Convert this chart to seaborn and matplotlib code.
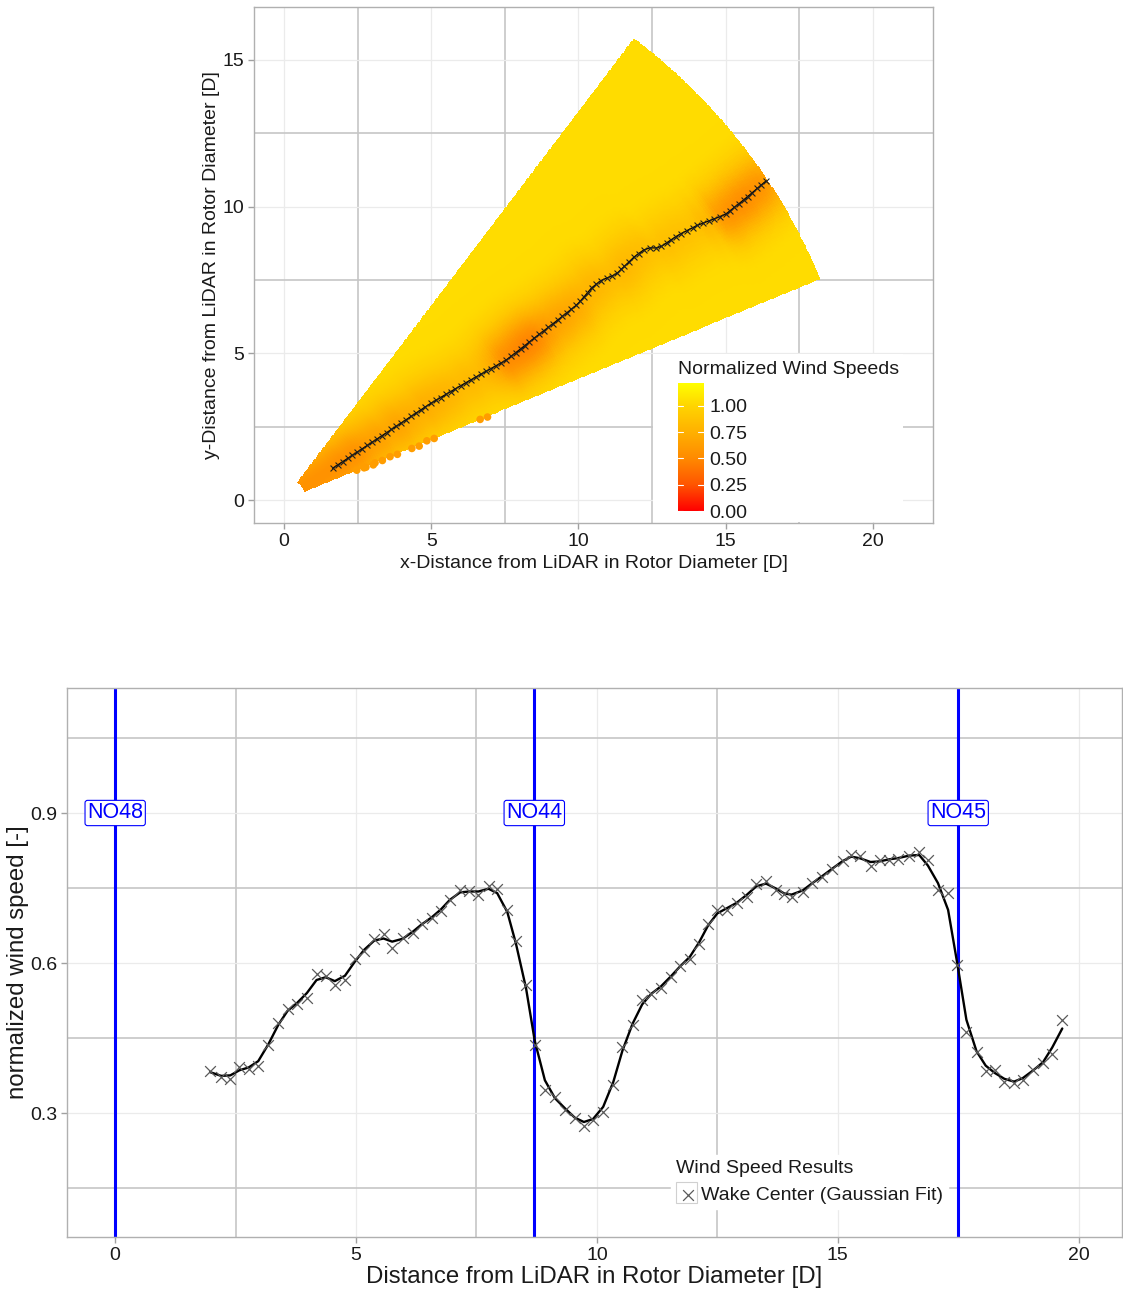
import numpy as np
import pandas as pd
import matplotlib
matplotlib.use("Agg")
import matplotlib.pyplot as plt
import seaborn as sns
from matplotlib.colors import LinearSegmentedColormap, Normalize
from matplotlib.patches import Rectangle
from matplotlib.ticker import FixedLocator

# ---------------- data ----------------
# wake-centre wind speed along the wake (bottom panel)
dist = [1.97, 2.20, 2.39, 2.58, 2.77, 2.97, 3.18, 3.39, 3.58, 3.77, 3.98, 4.18, 4.37, 4.56, 4.77, 4.97, 5.17, 5.38, 5.57, 5.75,
        5.97, 6.18, 6.36, 6.57, 6.76, 6.95, 7.16, 7.35, 7.54, 7.75, 7.93, 8.14, 8.32, 8.53, 8.71, 8.92, 9.13, 9.34, 9.54, 9.73,
        9.92, 10.13, 10.34, 10.53, 10.74, 10.94, 11.13, 11.33, 11.53, 11.72, 11.93, 12.12, 12.31, 12.50, 12.70, 12.90, 13.11, 13.31, 13.51, 13.71, 13.89,
        14.04, 14.27, 14.47, 14.68, 14.89, 15.10, 15.28, 15.46, 15.68, 15.87, 16.06, 16.25, 16.48, 16.69, 16.87,
        17.08, 17.29, 17.48, 17.67, 17.88, 18.07, 18.26, 18.46, 18.66, 18.84, 19.05, 19.26, 19.45, 19.66]
speed = [0.385, 0.372, 0.368, 0.393, 0.388, 0.395, 0.437, 0.481, 0.509, 0.519, 0.531, 0.579, 0.575, 0.557, 0.566, 0.609, 0.624, 0.649, 0.658, 0.631,
         0.651, 0.661, 0.678, 0.691, 0.705, 0.727, 0.747, 0.744, 0.737, 0.754, 0.749, 0.707, 0.645, 0.557, 0.437, 0.346, 0.333, 0.306, 0.291, 0.275,
         0.287, 0.303, 0.356, 0.433, 0.477, 0.527, 0.538, 0.551, 0.573, 0.594, 0.609, 0.638, 0.679, 0.706, 0.706, 0.721, 0.733, 0.758, 0.765, 0.747, 0.738,
         0.733, 0.743, 0.761, 0.773, 0.789, 0.805, 0.816, 0.814, 0.794, 0.806, 0.807, 0.809, 0.814, 0.822, 0.806,
         0.746, 0.741, 0.597, 0.463, 0.423, 0.385, 0.386, 0.363, 0.361, 0.366, 0.386, 0.401, 0.418, 0.486]

# wake-centre direction (deg from x axis)
wake_anchor_r = [1.99, 5.92, 8.90, 10.13, 12.0, 12.71, 13.13, 13.64, 14.54, 15.02, 15.36, 16.15, 16.87, 17.55, 17.89, 18.71, 19.67]
wake_anchor_deg = [33.3, 33.5, 32.3, 33.0, 33.8, 34.7, 34.8, 34.3, 34.9, 34.9, 34.0, 34.0, 33.7, 33.2, 33.0, 33.25, 33.6]

# LiDAR scan sector
scan_r = [0.75, 19.7]
scan_deg = [22.5, 52.9]
free_stream = 1.04
wake_depth = 0.75
wake_sigma = 0.75

# isolated low-speed returns near the lower sector edge
dot_x = [2.47, 2.78, 3.09, 3.60, 4.34, 4.85, 6.66]
dot_y = [1.02, 1.12, 1.27, 1.48, 1.76, 2.02, 2.75]
dot_v = [0.62, 0.62, 0.62, 0.62, 0.62, 0.62, 0.62]

turbines = ["NO48", "NO44", "NO45"]
turbine_x = [0.0, 8.7, 17.5]

cbar_ticks = [0.0, 0.25, 0.5, 0.75, 1.0]
cbar_labels = ["0.00", "0.25", "0.50", "0.75", "1.00"]

# ---------------- style ----------------
sns.set_theme(style="white")
plt.rcParams['font.family'] = ['Liberation Sans', 'DejaVu Sans']
TXT = "#1a1a1a"
MAJ = "#C6C6C6"
MIN = "#EBEBEB"

vmax = 1.22
cmap = LinearSegmentedColormap.from_list(
    "ry", [(0.0, "#FF0000"), (0.25 / vmax, "#FF5500"), (0.5 / vmax, "#FF8A00"),
           (0.75 / vmax, "#FFB000"), (1.0 / vmax, "#FFD400"), (1.0, "#FFFF00")])
norm = Normalize(0, vmax)

W, H = 1123, 1289
fig = plt.figure(figsize=(W / 100, H / 100), dpi=100)


def fx(px):
    return px / W


def fy(py):
    return 1 - py / H


def style_axes(ax, xmaj, xmin, ymaj, ymin, fs):
    ax.xaxis.set_major_locator(FixedLocator(xmaj))
    ax.xaxis.set_minor_locator(FixedLocator(xmin))
    ax.yaxis.set_major_locator(FixedLocator(ymaj))
    ax.yaxis.set_minor_locator(FixedLocator(ymin))
    ax.grid(True, which="major", color=MIN, lw=0.9, zorder=0)
    ax.grid(True, which="minor", color=MAJ, lw=1.2, zorder=0)
    ax.set_axisbelow(True)
    ax.tick_params(which="major", direction="out", length=4, width=1, color="#A0A0A0",
                   labelsize=fs, labelcolor=TXT, bottom=True, left=True, pad=3)
    ax.tick_params(which="minor", length=0)
    for s in ax.spines.values():
        s.set_color("#B0B0B0")
        s.set_linewidth(1.0)


# ---------------- top panel: scan sector ----------------
ax1 = fig.add_axes([fx(254), fy(523), fx(933 - 254), (523 - 7) / H])
ax1.set_xlim(-1.02, 22.04)
ax1.set_ylim(-0.78, 16.8)
style_axes(ax1, [0, 5, 10, 15, 20], [2.5, 7.5, 12.5, 17.5], [0, 5, 10, 15], [2.5, 7.5, 12.5], 14)

r_edges = np.linspace(scan_r[0], scan_r[1], 260)
t_edges = np.deg2rad(np.linspace(scan_deg[0], scan_deg[1], 160))
RE, TE = np.meshgrid(r_edges, t_edges)
rc = 0.5 * (r_edges[:-1] + r_edges[1:])
tc = 0.5 * (t_edges[:-1] + t_edges[1:])
RC, TC = np.meshgrid(rc, tc)
centre_val = np.interp(RC, dist, speed)
centre_ang = np.deg2rad(np.interp(RC, wake_anchor_r, wake_anchor_deg))
lateral = RC * (TC - centre_ang)
field = free_stream - wake_depth * (free_stream - centre_val) * np.exp(-0.5 * (lateral / wake_sigma) ** 2)
ax1.pcolormesh(RE * np.cos(TE), RE * np.sin(TE), field, cmap=cmap, norm=norm,
               shading="flat", edgecolors="face", linewidth=0, zorder=1, rasterized=True)

dots = pd.DataFrame({"x": dot_x, "y": dot_y, "v": dot_v})
ax1.scatter(dots["x"], dots["y"], c=cmap(norm(dots["v"])), s=30, lw=0, zorder=2)
ax1.scatter(dots["x"] + 0.25, dots["y"] + 0.08, c=cmap(norm(dots["v"])), s=30, lw=0, zorder=2)

wk_ang = np.deg2rad(np.interp(dist, wake_anchor_r, wake_anchor_deg))
wake_top = pd.DataFrame({"x": np.array(dist) * np.cos(wk_ang), "y": np.array(dist) * np.sin(wk_ang)})
ax1.plot(wake_top["x"], wake_top["y"], color="black", lw=0.9, zorder=3)
sns.scatterplot(data=wake_top, x="x", y="y", marker="x", s=18, color="#202020",
                linewidth=0.8, ax=ax1, zorder=4, legend=False)

ax1.set_xlabel("x-Distance from LiDAR in Rotor Diameter [D]", fontsize=14, color=TXT, labelpad=4)
ax1.set_ylabel("y-Distance from LiDAR in Rotor Diameter [D]", fontsize=14, color=TXT, labelpad=2)

# legend background + colourbar
ax1.add_patch(Rectangle(((653 - 254) / 679, 0.002), (903 - 653) / 679, (523 - 355) / 516,
                        transform=ax1.transAxes, facecolor="white", edgecolor="none", zorder=5))
cax = fig.add_axes([fx(678), fy(511), fx(25.6), 128.5 / H])
cb = fig.colorbar(plt.cm.ScalarMappable(norm=norm, cmap=cmap), cax=cax, ticks=cbar_ticks)
cb.outline.set_visible(False)
cb.ax.set_yticklabels(cbar_labels)
cb.ax.tick_params(length=0, pad=4, labelsize=14, labelcolor=TXT)
for t in cbar_ticks:
    cb.ax.plot([0, 0.2], [t, t], color="white", lw=0.8, transform=cb.ax.get_yaxis_transform())
    cb.ax.plot([0.8, 1.0], [t, t], color="white", lw=0.8, transform=cb.ax.get_yaxis_transform())
fig.text(fx(678), fy(369), "Normalized Wind Speeds", fontsize=14, color=TXT, ha="left", va="center")

# ---------------- bottom panel: wind speed along wake ----------------
ax2 = fig.add_axes([fx(67), fy(1237), fx(1122 - 67), (1237 - 688) / H])
ax2.set_xlim(-1.0, 20.9)
ax2.set_ylim(0.052, 1.15)
style_axes(ax2, [0, 5, 10, 15, 20], [2.5, 7.5, 12.5, 17.5], [0.3, 0.6, 0.9], [0.15, 0.45, 0.75, 1.05], 14)

for name, tx in zip(turbines, turbine_x):
    ax2.axvline(tx, color="#0000FF", lw=2.2, zorder=2)
    ax2.text(tx, 0.9, name, color="#0000FF", fontsize=15.5, ha="center", va="center", zorder=6,
             bbox=dict(boxstyle="round,pad=0.1,rounding_size=0.12", fc="white", ec="#0000FF", lw=0.8))

wake = pd.DataFrame({"dist": dist, "speed": speed})
kernel = np.array([0.25, 0.5, 0.25])
padded = np.concatenate([[speed[0]], speed, [speed[-1]]])
wake["smooth"] = np.convolve(padded, kernel, mode="valid")
sns.lineplot(data=wake, x="dist", y="smooth", color="black", lw=1.7, ax=ax2, zorder=3, legend=False)
sns.scatterplot(data=wake, x="dist", y="speed", marker="x", s=60, color="#5a5a5a", linewidth=0.9,
                ax=ax2, zorder=4, label="Wake Center (Gaussian Fit)")

ax2.set_xlabel("Distance from LiDAR in Rotor Diameter [D]", fontsize=17.3, color=TXT, labelpad=2)
ax2.set_ylabel("normalized wind speed [-]", fontsize=17.3, color=TXT, labelpad=0.5)

leg = ax2.legend(loc="lower left", bbox_to_anchor=((671 - 67) / 1055, (1237 - 1209) / 549),
                 title="Wind Speed Results", fontsize=14, title_fontsize=14, frameon=True,
                 fancybox=False, edgecolor="white", facecolor="white", framealpha=1,
                 borderpad=0.25, handletextpad=0.1, handlelength=1.2, alignment="left",
                 borderaxespad=0)
leg.set_zorder(7)
for t in leg.get_texts():
    t.set_color(TXT)
leg.get_title().set_color(TXT)
# light key box around the legend marker
ax2.add_patch(Rectangle((fx(676), fy(1203)), fx(21), 21 / H, transform=fig.transFigure,
                        facecolor="none", edgecolor="#D0D0D0", lw=0.8, zorder=8))

fig.savefig("out.png", dpi=100)
